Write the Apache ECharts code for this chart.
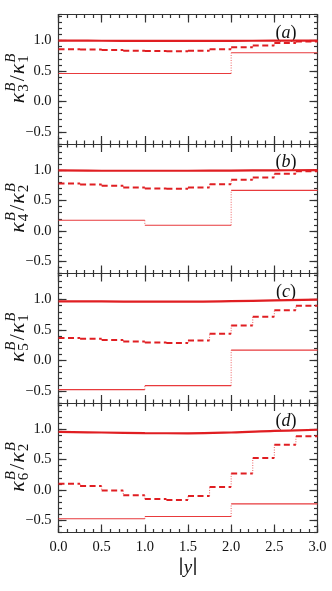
<!DOCTYPE html>
<html><head><meta charset="utf-8">
<script src="https://cdn.jsdelivr.net/npm/echarts@6/dist/echarts.min.js"></script>
<style>html,body{margin:0;padding:0;background:#fff}#c{width:332px;height:591px}</style>
</head><body><div id="c"></div>
<script>
// ---------- data ----------
const panelLetters = ['a', 'b', 'c', 'd'];
const numIndex = ['3', '4', '5', '6'];
const denIndex = ['1', '2', '1', '2'];

const smoothX = [0, 0.5, 1, 1.5, 2, 2.5, 3];
const smoothA = [1.0, 0.998, 0.995, 0.995, 0.997, 0.999, 1.0];
const smoothB = [0.995, 0.99, 0.99, 0.99, 0.993, 0.997, 1.0];
const smoothC = [0.973, 0.97, 0.968, 0.968, 0.975, 0.987, 1.0];
const smoothD = [0.955, 0.945, 0.935, 0.932, 0.945, 0.97, 0.99];

const fineEdges = [0, 0.25, 0.5, 0.75, 1, 1.25, 1.5, 1.75, 2, 2.25, 2.5, 2.75, 3];
const dashedA = [0.86, 0.855, 0.845, 0.835, 0.83, 0.825, 0.835, 0.86, 0.89, 0.92, 0.96, 0.985];
const dashedB = [0.78, 0.765, 0.743, 0.716, 0.70, 0.694, 0.715, 0.77, 0.84, 0.88, 0.94, 0.98];
const dashedC = [0.37, 0.355, 0.335, 0.31, 0.295, 0.285, 0.33, 0.44, 0.575, 0.72, 0.825, 0.90];
const dashedD = [0.10, 0.063, -0.01, -0.088, -0.147, -0.164, -0.098, 0.05, 0.27, 0.525, 0.743, 0.885];

const coarseEdges = [0, 1, 2, 3];
const thinA = [0.46, 0.46, 0.80];
const thinB = [0.175, 0.093, 0.667];
const thinC = [-0.48, -0.415, 0.17];
const thinD = [-0.475, -0.437, -0.23];

const xMajorTicks = [0, 0.5, 1, 1.5, 2, 2.5, 3];
const yMajorTicks = [-0.5, 0, 0.5, 1.0];
const yMin = -0.7, yMax = 1.43;

const smoothAll = [smoothA, smoothB, smoothC, smoothD];
const dashedAll = [dashedA, dashedB, dashedC, dashedD];
const thinAll = [thinA, thinB, thinC, thinD];

// ---------- layout / style ----------
const RED = '#e01e22';
const RED_THIN = '#e83a3c';
const AXC = '#333';
const FONT = '"Liberation Serif", "DejaVu Serif", serif';
const gridLeft = 58.5, gridRight = 14.5, gridTop0 = 14.5, gridH = 129.5;

function fmt(v) {
  const s = Math.abs(v).toFixed(1);
  return v < -1e-9 ? '\u2212' + s : s;
}

const grids = [], xAxes = [], yAxes = [], series = [], graphics = [];

function segData(edges, vals) {
  const d = [];
  for (let j = 0; j < vals.length; j++) {
    d.push([edges[j], vals[j]], [edges[j + 1], vals[j]], [edges[j + 1], null]);
  }
  return d;
}
function connData(edges, vals) {
  const d = [];
  for (let j = 0; j < vals.length - 1; j++) {
    if (vals[j] === vals[j + 1]) continue;
    d.push([edges[j + 1], vals[j]], [edges[j + 1], vals[j + 1]], [edges[j + 1], null]);
  }
  return d;
}

for (let i = 0; i < 4; i++) {
  const top = gridTop0 + i * gridH;
  grids.push({ left: gridLeft, right: gridRight, top: top, height: gridH, containLabel: false });
  const lineStyle = { color: AXC, width: 1.2 };
  const xBase = { gridIndex: i, type: 'value', min: 0, max: 3, splitLine: { show: false } };
  xAxes.push(Object.assign({}, xBase, {
    position: 'bottom', interval: 0.5,
    axisLine: { show: true, onZero: false, lineStyle },
    axisTick: { show: true, inside: true, length: 8, lineStyle },
    axisLabel: { show: i === 3, margin: 7, color: '#111', fontFamily: FONT, fontSize: 14.5, formatter: fmt }
  }));
  xAxes.push(Object.assign({}, xBase, {
    position: 'bottom', interval: 0.1,
    axisLine: { show: false, onZero: false },
    axisTick: { show: true, inside: true, length: 3.5, lineStyle },
    axisLabel: { show: false }
  }));
  xAxes.push(Object.assign({}, xBase, {
    position: 'top', interval: 0.5,
    axisLine: { show: true, onZero: false, lineStyle },
    axisTick: { show: true, inside: true, length: 8, lineStyle },
    axisLabel: { show: false }
  }));
  xAxes.push(Object.assign({}, xBase, {
    position: 'top', interval: 0.1,
    axisLine: { show: false, onZero: false },
    axisTick: { show: true, inside: true, length: 3.5, lineStyle },
    axisLabel: { show: false }
  }));

  const yBase = { gridIndex: i, type: 'value', min: yMin, max: yMax, splitLine: { show: false } };
  ['left', 'right'].forEach(pos => {
    yAxes.push(Object.assign({}, yBase, {
      position: pos,
      axisLine: { show: true, onZero: false, lineStyle },
      axisTick: { show: true, inside: true, length: 8, lineStyle, customValues: yMajorTicks },
      axisLabel: { show: pos === 'left', customValues: yMajorTicks, margin: 7, color: '#111', fontFamily: FONT, fontSize: 14.5, formatter: fmt }
    }));
    yAxes.push(Object.assign({}, yBase, {
      position: pos, interval: 0.1, min: yMin,
      axisLine: { show: false, onZero: false },
      axisTick: { show: true, inside: true, length: 3.5, lineStyle },
      axisLabel: { show: false }
    }));
  });

  const xi = 4 * i, yi = 4 * i;
  series.push({
    type: 'line', xAxisIndex: xi, yAxisIndex: yi, data: segData(coarseEdges, thinAll[i]),
    showSymbol: false, symbol: 'none', connectNulls: false, silent: true,
    lineStyle: { color: RED_THIN, width: 1.1 }
  });
  series.push({
    type: 'line', xAxisIndex: xi, yAxisIndex: yi, data: connData(coarseEdges, thinAll[i]),
    showSymbol: false, symbol: 'none', connectNulls: false, silent: true,
    lineStyle: { color: RED_THIN, width: 1, type: [1, 1.5], opacity: 0.8 }
  });
  series.push({
    type: 'line', xAxisIndex: xi, yAxisIndex: yi, data: segData(fineEdges, dashedAll[i]),
    showSymbol: false, symbol: 'none', connectNulls: false, silent: true,
    lineStyle: { color: RED, width: 2, type: [6, 3.5] }
  });
  series.push({
    type: 'line', xAxisIndex: xi, yAxisIndex: yi, data: connData(fineEdges, dashedAll[i]),
    showSymbol: false, symbol: 'none', connectNulls: false, silent: true,
    lineStyle: { color: RED_THIN, width: 1, type: [1, 1.5], opacity: 0.8 }
  });
  series.push({
    type: 'line', xAxisIndex: xi, yAxisIndex: yi, smooth: 0.4,
    data: smoothX.map((x, k) => [x, smoothAll[i][k]]),
    showSymbol: false, symbol: 'none', silent: true,
    lineStyle: { color: RED, width: 2.2 }
  });

  graphics.push({
    type: 'text', x: 286, y: top + 18.5, silent: true,
    style: {
      text: '{p|(}{l|' + panelLetters[i] + '}{p|)}',
      align: 'center', verticalAlign: 'middle', textAlign: 'center', textVerticalAlign: 'middle',
      rich: {
        p: { fontFamily: FONT, fontSize: 18, fill: '#111' },
        l: { fontFamily: FONT, fontSize: 18, fontStyle: 'italic', fill: '#111' }
      }
    }
  });

  const bigF = 'italic 22px ' + FONT;
  const supF = 'italic 15px ' + FONT;
  const subF = '15px ' + FONT;
  const t = (text, x, y, font) => ({
    type: 'text', x: x, y: y, silent: true,
    style: { text: text, font: font, fill: '#111', align: 'left', verticalAlign: 'middle', textAlign: 'left', textVerticalAlign: 'middle' }
  });
  graphics.push({
    type: 'group', x: 18, y: top + gridH / 2 - 3, rotation: Math.PI / 2, silent: true,
    children: [
      t('\u03ba', -27, 0, bigF),
      t('B', -15.5, -7, supF),
      t(numIndex[i], -15.5, 6.5, subF),
      t('/', -5, 0, '22px ' + FONT),
      t('\u03ba', 2, 0, bigF),
      t('B', 13.5, -7, supF),
      t(denIndex[i], 13.5, 6.5, subF)
    ]
  });
}

graphics.push({
  type: 'text', x: 188, y: 568, silent: true,
  style: {
    text: '{n|\u2223}{i|y}{n|\u2223}',
    align: 'center', verticalAlign: 'middle', textAlign: 'center', textVerticalAlign: 'middle',
    rich: {
      n: { fontFamily: FONT, fontSize: 19, fill: '#111' },
      i: { fontFamily: FONT, fontSize: 19, fontStyle: 'italic', fill: '#111' }
    }
  }
});

const chart = echarts.init(document.getElementById('c'), null, { renderer: 'canvas' });
chart.setOption({
  animation: false,
  backgroundColor: '#fff',
  grid: grids,
  xAxis: xAxes,
  yAxis: yAxes,
  series: series,
  graphic: graphics
});
</script>
</body></html>
